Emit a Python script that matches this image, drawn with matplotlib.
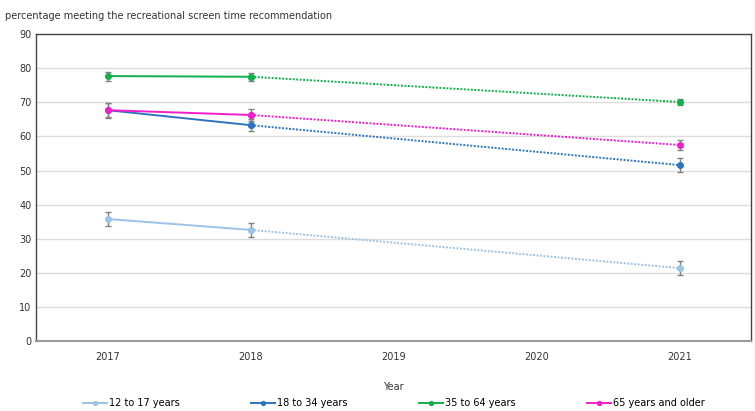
import numpy as np
import matplotlib.pyplot as plt

years = [2017, 2018, 2019, 2020, 2021]
obs_years = [2017, 2018, 2021]

labels = ['12 to 17 years', '18 to 34 years', '35 to 64 years', '65 years and older']
values = [
    [35.8, 32.6, 21.4],
    [67.7, 63.3, 51.6],
    [77.7, 77.5, 70.1],
    [67.7, 66.3, 57.5],
]
errors = [
    [2.0, 2.0, 2.0],
    [2.2, 1.8, 2.0],
    [1.3, 1.2, 1.0],
    [2.0, 1.8, 1.5],
]
colors = ['#9dc3e6', '#2e75c0', '#12b04c', '#f21dcb']

fig = plt.figure(figsize=(7.55, 4.11), dpi=100)
ax = fig.add_axes([0.048, 0.170, 0.947, 0.747])

for lab, v, e, c in zip(labels, values, errors, colors):
    ax.errorbar(obs_years, v, yerr=e, fmt='none', ecolor='#808080', elinewidth=1,
                capsize=2.5, capthick=1, zorder=2)
    ax.plot(obs_years[:2], v[:2], color=c, lw=1.4, marker='o', ms=4, zorder=3, label=lab)
    ax.plot(obs_years[1:], v[1:], color=c, lw=1.4, ls=(0, (1, 0.8)), marker='o', ms=4, zorder=3)

ax.set_xlim(2016.5, 2021.5)
ax.set_ylim(0, 90)
ax.set_xticks(years)
ax.set_yticks(np.arange(0, 91, 10))
ax.tick_params(labelsize=7, length=0, colors='#333333')
ax.tick_params(axis='x', pad=8)
ax.yaxis.grid(True, color='#dddddd', lw=1)
ax.set_axisbelow(True)
for s in ['left', 'top', 'right']:
    ax.spines[s].set_color('#444444')
    ax.spines[s].set_linewidth(1)
ax.spines['bottom'].set_color('#999999')
ax.spines['bottom'].set_linewidth(1.5)

ax.set_xlabel('Year', fontsize=7, color='#333333', labelpad=14)
fig.text(0.007, 0.962, 'percentage meeting the recreational screen time recommendation',
         fontsize=7, color='#333333', va='center')

ax.legend(loc='upper center', bbox_to_anchor=(0.5, -0.158), ncol=4, frameon=False,
          fontsize=7, handlelength=2.5, columnspacing=7.3, handletextpad=0.2,
          markerscale=0.7)

fig.savefig('out.png', dpi=100)
